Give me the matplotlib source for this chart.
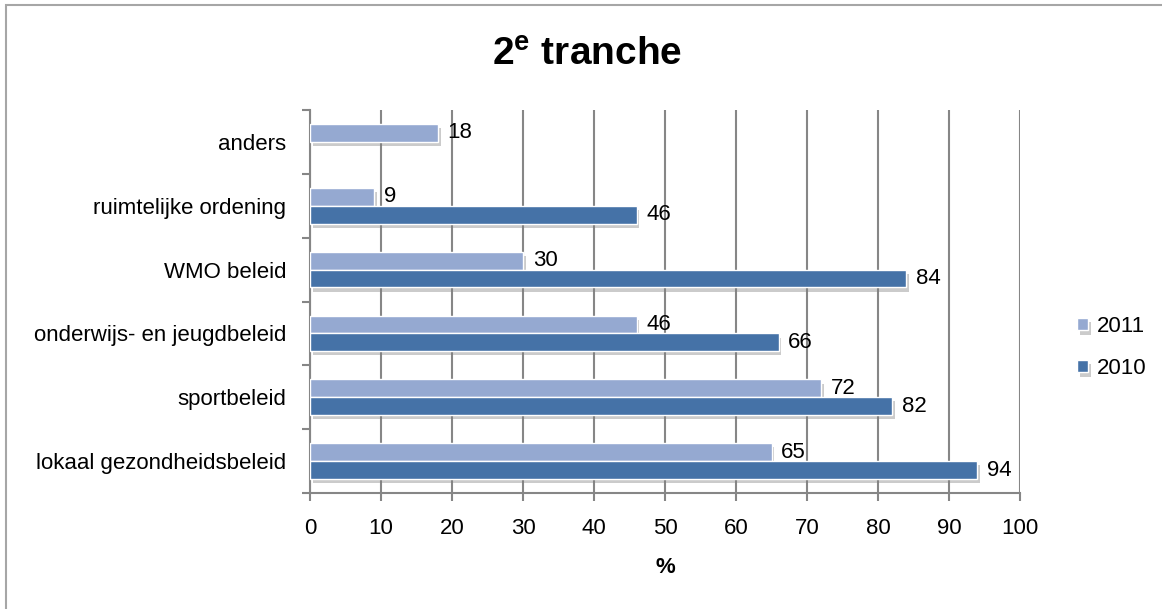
import numpy as np
import matplotlib.pyplot as plt
import matplotlib.patheffects as pe
from matplotlib.patches import Rectangle

categories = ['lokaal gezondheidsbeleid', 'sportbeleid', 'onderwijs- en jeugdbeleid',
              'WMO beleid', 'ruimtelijke ordening', 'anders']
v2011 = [65, 72, 46, 30, 9, 18]
v2010 = [94, 82, 66, 84, 46, np.nan]
xticks = [0, 10, 20, 30, 40, 50, 60, 70, 80, 90, 100]

plt.rcParams['font.family'] = ['Liberation Sans', 'DejaVu Sans']
plt.rcParams['mathtext.fontset'] = 'custom'
plt.rcParams['mathtext.bf'] = 'Liberation Sans:bold'
plt.rcParams['mathtext.rm'] = 'Liberation Sans'

c2011 = '#95a9d1'
c2010 = '#4572a7'
grey = '#868686'
fs = 16

fig = plt.figure(figsize=(11.62, 6.09), dpi=100)
ax = fig.add_axes([310 / 1162, 1 - 493 / 609, 710 / 1162, 383 / 609])

y = np.arange(len(categories))
h = 0.28
shadow = [pe.SimplePatchShadow(offset=(2, -3), shadow_rgbFace='#7f7f7f', alpha=0.4), pe.Normal()]

b11 = ax.barh(y + h / 2, v2011, height=h, color=c2011, edgecolor='white', linewidth=1,
              label='2011', path_effects=shadow, zorder=3)
b10 = ax.barh(y - h / 2, v2010, height=h, color=c2010, edgecolor='white', linewidth=1,
              label='2010', path_effects=shadow, zorder=3)

ax.bar_label(b11, labels=[f'{v:g}' for v in v2011], padding=7, fontsize=fs)
ax.bar_label(b10, labels=['' if np.isnan(v) else f'{v:g}' for v in v2010], padding=7, fontsize=fs)

ax.set_xlim(0, 100)
ax.set_ylim(-0.5, len(categories) - 0.5)
ax.set_xticks(xticks)
ax.set_yticks(y)
ax.set_yticklabels(categories, fontsize=fs)
ax.set_yticks(np.arange(-0.5, len(categories)), minor=True)
ax.tick_params(axis='y', which='major', length=0, pad=17)
ax.tick_params(axis='y', which='minor', length=6, width=1.5, color=grey, direction='out')
ax.tick_params(axis='x', length=6, width=1.5, color=grey, labelsize=fs, pad=12)

ax.grid(axis='x', color=grey, linewidth=1.5, zorder=0)
ax.set_axisbelow(True)
for s in ['top', 'right']:
    ax.spines[s].set_visible(False)
for s in ['left', 'bottom']:
    ax.spines[s].set_color(grey)
    ax.spines[s].set_linewidth(1.5)

ax.set_xlabel('%', fontsize=fs, fontweight='bold', labelpad=13)

fig.text(0.505, 1 - 55 / 609, r'$\mathbf{2^{e}}$ tranche', ha='center', va='center',
         fontsize=28, fontweight='bold')

handles, labels = ax.get_legend_handles_labels()
ax.legend(handles, labels, loc='center left', bbox_to_anchor=(1.052, 0.38), frameon=False,
          fontsize=fs, handlelength=0.5, handleheight=0.5, labelspacing=0.95, handletextpad=0.4)

fig.patches.append(Rectangle((6 / 1162, -0.1), 1.2, 1.1 - 5 / 609,
                             transform=fig.transFigure, fill=False, edgecolor='#a6a6a6', linewidth=1.5))

fig.savefig('out.png', dpi=100)
